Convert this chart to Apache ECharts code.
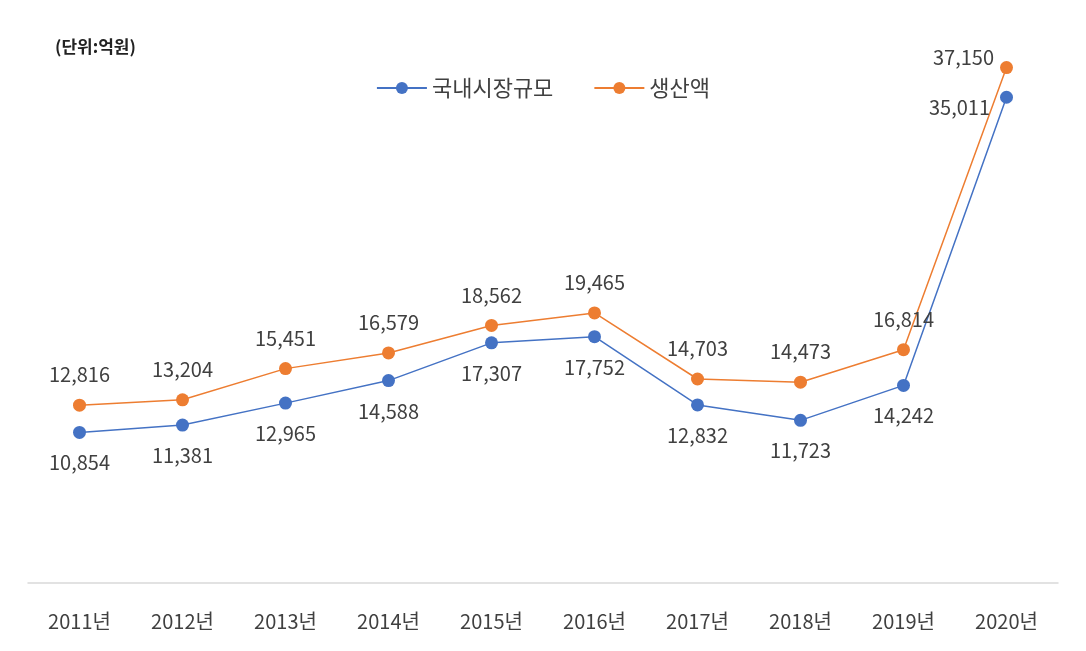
<!DOCTYPE html>
<html><head><meta charset="utf-8">
<script src="https://cdn.jsdelivr.net/npm/echarts@6/dist/echarts.min.js"></script>
<style>html,body{margin:0;background:#fff}#c{width:1086px;height:651px}</style>
</head><body><div id="c"></div>
<script>
var years=['2011년','2012년','2013년','2014년','2015년','2016년','2017년','2018년','2019년','2020년'];
var domestic=[10854,11381,12965,14588,17307,17752,12832,11723,14242,35011];
var production=[12816,13204,15451,16579,18562,19465,14703,14473,16814,37150];
var font='"Noto Sans CJK KR","Noto Sans",sans-serif';

function fmt(p){return p.value.toLocaleString('en-US');}
function items(vals,lastLabel){
	var out=[];
	for(var i=0;i<vals.length;i++){
		var it={value:vals[i]};
		if(i==vals.length-1) it.label=lastLabel;
		out.push(it);
	}
	return out;
}

var myChart=echarts.init(document.getElementById('c'));
myChart.setOption({
	animation:false,
	title:{text:'(단위:억원)',left:50,top:33,textStyle:{fontFamily:font,fontSize:17,fontWeight:'bold',color:'#222'}},
	legend:{top:72,left:'center',itemGap:40,itemWidth:50,itemHeight:15,
		textStyle:{fontFamily:font,fontSize:22,color:'#404040'},
		data:['국내시장규모','생산액']},
	grid:{left:28,right:28,top:28,bottom:68},
	xAxis:{type:'category',data:years,
		axisLine:{lineStyle:{color:'#d9d9d9',width:1.5}},axisTick:{show:false},
		axisLabel:{fontFamily:font,fontSize:20,color:'#404040',margin:28}},
	yAxis:{type:'value',min:0,max:40000,show:false,splitLine:{show:false}},
	series:[
		{name:'국내시장규모',type:'line',data:items(domestic,{position:'left',offset:[4,10]}),
			color:'#4472C4',symbol:'circle',symbolSize:13,lineStyle:{width:1.5},
			label:{show:true,position:'bottom',distance:14,formatter:fmt,fontFamily:font,fontSize:20,color:'#404040'}},
		{name:'생산액',type:'line',data:items(production,{position:'left',offset:[8,-10]}),
			color:'#ED7D31',symbol:'circle',symbolSize:13,lineStyle:{width:1.5},
			label:{show:true,position:'top',distance:14,formatter:fmt,fontFamily:font,fontSize:20,color:'#404040'}}
	]
});
</script></body></html>
